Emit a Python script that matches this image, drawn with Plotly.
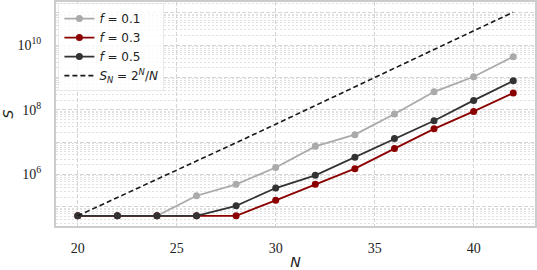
import plotly.graph_objects as go

N = [20, 22, 24, 26, 28, 30, 32, 34, 36, 38, 40, 42]
S_f01 = [52429, 52429, 52429, 2.19e5, 4.95e5, 1.64e6, 7.4e6, 1.7e7, 7.4e7, 3.6e8, 1.05e9, 4.4e9]
S_f03 = [52429, 52429, 52429, 52429, 52429, 1.58e5, 4.95e5, 1.51e6, 6.3e6, 2.57e7, 8.9e7, 3.3e8]
S_f05 = [52429, 52429, 52429, 52429, 1.07e5, 3.8e5, 9.4e5, 3.4e6, 1.29e7, 4.6e7, 1.95e8, 7.9e8]
S_bound = [52428.8, 190650.2, 699050.7, 2581110.2, 9586980.6, 35791394.1, 134217728,
           505290270, 1908874354, 7233629130, 27487790694, 104715393122]

x_ticks = [20, 25, 30, 35, 40]
y_major = [1e5, 1e6, 1e7, 1e8, 1e9, 1e10, 1e11]
y_labels = ["", "10<sup>6</sup>", "", "10<sup>8</sup>", "", "10<sup>10</sup>", ""]
y_minor = [m * 10 ** e for e in range(4, 12) for m in range(2, 10)]

fig = go.Figure()
series = [
    (S_f01, "#aaaaaa", "<i>f</i> = 0.1"),
    (S_f03, "#8b0000", "<i>f</i> = 0.3"),
    (S_f05, "#333333", "<i>f</i> = 0.5"),
]
for vals, col, name in series:
    fig.add_trace(go.Scatter(x=N, y=vals, mode="lines+markers", name=name,
                             line=dict(color=col, width=1.8),
                             marker=dict(color=col, size=7)))
fig.add_trace(go.Scatter(x=N, y=S_bound, mode="lines",
                         name="<i>S</i><sub><i>N</i></sub> = 2<sup><i>N</i></sup>/<i>N</i>",
                         line=dict(color="#1a1a1a", width=1.6, dash="5px,3px")))

serif = dict(family="Liberation Serif", size=14, color="#222222")

fig.update_layout(
    width=537, height=270,
    margin=dict(l=56, r=2, t=2, b=44),
    paper_bgcolor="white", plot_bgcolor="white",
    font=serif,
    legend=dict(x=0.005, y=0.995, xanchor="left", yanchor="top",
                bgcolor="rgba(255,255,255,0.8)", bordercolor="rgba(220,220,220,0.6)", borderwidth=1,
                font=dict(family="DejaVu Sans", size=12, color="#222222"),
                tracegroupgap=0),
)
fig.update_xaxes(
    range=[18.9, 43.1], tickmode="array", tickvals=x_ticks, tickfont=serif,
    showgrid=True, gridcolor="#d5d5d5", griddash="4px,2px", gridwidth=0.8,
    showline=True, mirror=True, linecolor="#cccccc", linewidth=2,
    zeroline=False, ticks="", ticklabelstandoff=8, automargin=False,
    title=dict(text="<i>N</i>", font=dict(family="DejaVu Sans", size=14, color="#222222"), standoff=2),
)
fig.update_yaxes(
    type="log", range=[4.405, 11.335], tickmode="array", tickvals=y_major, ticktext=y_labels,
    tickfont=serif,
    showgrid=True, gridcolor="#d5d5d5", griddash="4px,2px", gridwidth=0.8,
    minor=dict(tickmode="array", tickvals=y_minor, showgrid=True,
               gridcolor="#e0e0e0", griddash="2px,2px", gridwidth=0.8, ticks=""),
    showline=True, mirror=True, linecolor="#cccccc", linewidth=2,
    zeroline=False, ticks="", ticklabelstandoff=10, automargin=False,
    title=dict(text="<i>S</i>", font=dict(family="DejaVu Sans", size=14, color="#222222"), standoff=10),
)

fig.write_html("out.html", config={"displayModeBar": False},
               post_script="document.body.style.margin='0';")
